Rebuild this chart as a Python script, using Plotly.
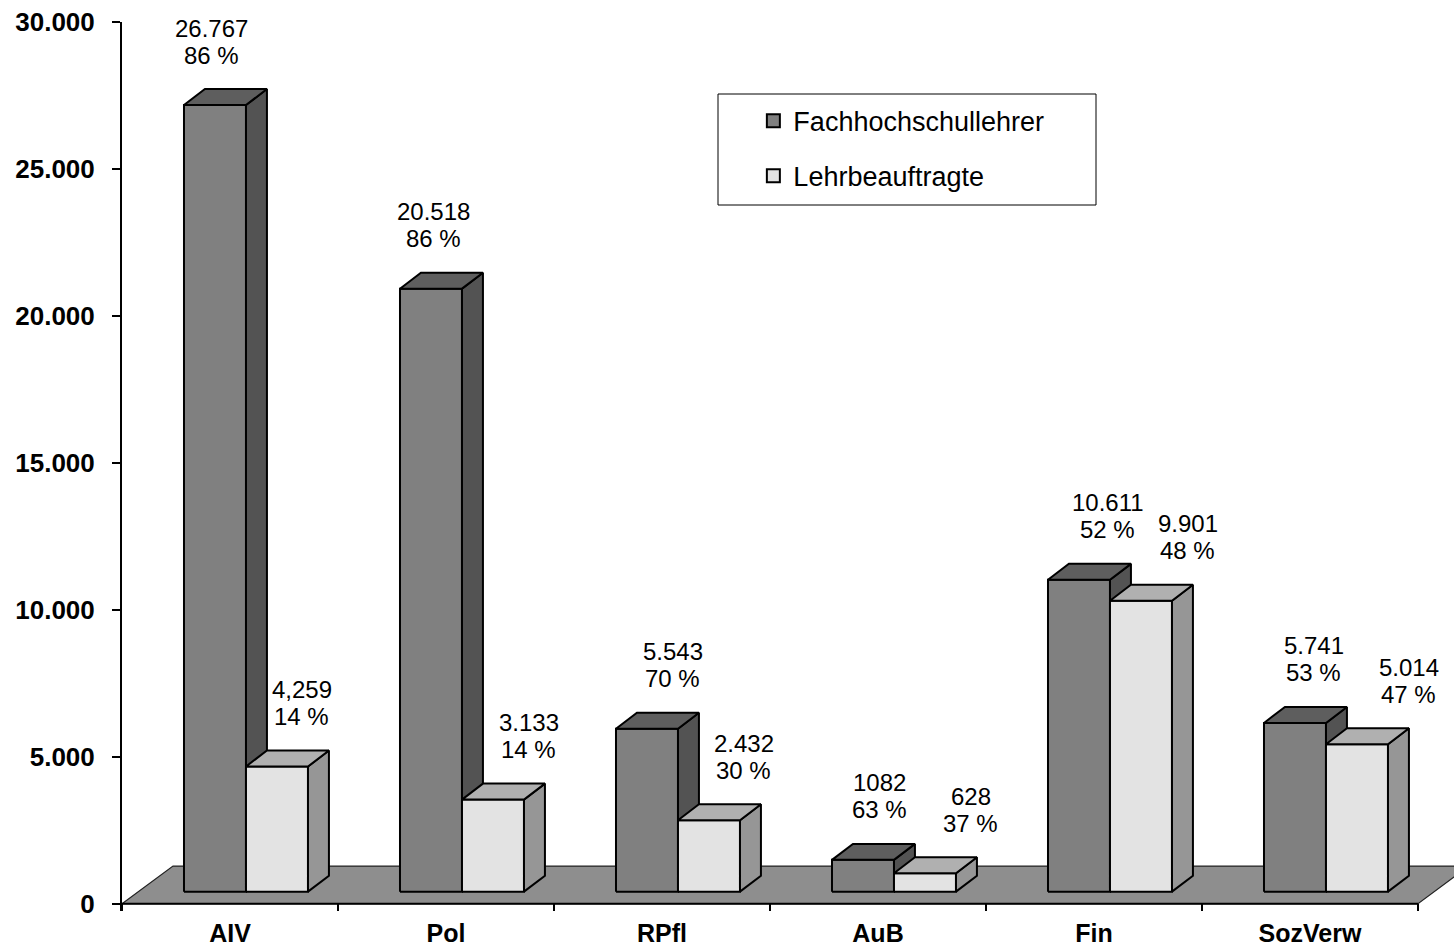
import plotly.graph_objects as go

# ---------------- data ----------------
categories = ["AIV", "Pol", "RPfl", "AuB", "Fin", "SozVerw"]
series_names = ["Fachhochschullehrer", "Lehrbeauftragte"]
fhl_values = [26767, 20518, 5543, 1082, 10611, 5741]
lba_values = [4259, 3133, 2432, 628, 9901, 5014]
fhl_value_text = ["26.767", "20.518", "5.543", "1082", "10.611", "5.741"]
lba_value_text = ["4,259", "3.133", "2.432", "628", "9.901", "5.014"]
fhl_pct = [86, 86, 70, 63, 52, 53]
lba_pct = [14, 14, 30, 37, 48, 47]
y_tick_values = [0, 5000, 10000, 15000, 20000, 25000, 30000]

# ---------------- geometry / style (layout constants) ----------------
BAR_LEFT = -0.213      # dark bar front-left, relative to category centre
BAR_W = 0.287          # bar width in category units
DEPTH_X = 0.097        # oblique depth of each bar (x units)
DEPTH_Y = 544          # oblique depth of each bar (y units)
BASE_Y = 408           # bars stand in the middle of the floor
FLOOR_DX = 0.236
FLOOR_DY = 1280
Y_MIN = -250
Y_MAX = 30000
X_MIN = -0.5
X_MAX = -0.5 + (1454 - 122) / 216.0

label_shift_fhl = [-3, 3, 26, 17, 29, 19]
label_shift_lba = [25, 36, 35, 46, 47, 52]

DARK_FRONT, DARK_SIDE, DARK_TOP = "#808080", "#535353", "#5e5e5e"
LIGHT_FRONT, LIGHT_SIDE, LIGHT_TOP = "#e3e3e3", "#969696", "#b0b0b0"
FLOOR = "#8e8e8e"
FONT = "Arial, Liberation Sans, sans-serif"


def faces(x0, x1, v):
    y0, y1 = BASE_Y, BASE_Y + v
    front = ([x0, x1, x1, x0, x0], [y0, y0, y1, y1, y0])
    side = ([x1, x1 + DEPTH_X, x1 + DEPTH_X, x1, x1],
            [y0, y0 + DEPTH_Y, y1 + DEPTH_Y, y1, y0])
    top = ([x0, x1, x1 + DEPTH_X, x0 + DEPTH_X, x0],
           [y1, y1, y1 + DEPTH_Y, y1 + DEPTH_Y, y1])
    return front, side, top


def collect(series, offset):
    out = {"front": ([], []), "side": ([], []), "top": ([], [])}
    for i, v in enumerate(series):
        x0 = i + BAR_LEFT + offset
        f, s, t = faces(x0, x0 + BAR_W, v)
        for key, poly in zip(["front", "side", "top"], [f, s, t]):
            out[key][0].extend(poly[0] + [None])
            out[key][1].extend(poly[1] + [None])
    return out


fig = go.Figure()

# floor
n = len(categories)
fig.add_trace(go.Scatter(
    x=[X_MIN, n - 0.5, n - 0.5 + FLOOR_DX, X_MIN + FLOOR_DX, X_MIN],
    y=[0, 0, FLOOR_DY, FLOOR_DY, 0],
    fill="toself", fillcolor=FLOOR, mode="lines",
    line=dict(color="#222222", width=1.2),
    hoverinfo="skip", showlegend=False))

dark = collect(fhl_values, 0.0)
light = collect(lba_values, BAR_W)
for polys, cols in [(dark, (DARK_FRONT, DARK_SIDE, DARK_TOP)),
                    (light, (LIGHT_FRONT, LIGHT_SIDE, LIGHT_TOP))]:
    for key, col in zip(["front", "side", "top"], cols):
        fig.add_trace(go.Scatter(
            x=polys[key][0], y=polys[key][1], fill="toself", fillcolor=col,
            mode="lines", line=dict(color="black", width=2),
            hoverinfo="skip", showlegend=False))

# x axis line and tick marks
ax_x, ax_y = [X_MIN, n - 0.5], [0, 0]
for k in range(n + 1):
    ax_x += [None, X_MIN + k, X_MIN + k]
    ax_y += [None, 0, Y_MIN]
fig.add_trace(go.Scatter(x=ax_x, y=ax_y, mode="lines",
                         line=dict(color="black", width=2),
                         hoverinfo="skip", showlegend=False))

# legend entries
for name, col, grp in [(series_names[0], DARK_FRONT, "a"),
                       (series_names[1], LIGHT_FRONT, "b")]:
    fig.add_trace(go.Scatter(
        x=[None], y=[None], mode="markers", name=name, legendgroup=grp,
        marker=dict(symbol="square", size=13, color=col,
                    line=dict(color="black", width=2))))

# data labels
annotations = []
for i in range(n):
    for vals, vtext, pct, shifts, offset in [
            (fhl_values, fhl_value_text, fhl_pct, label_shift_fhl, 0.0),
            (lba_values, lba_value_text, lba_pct, label_shift_lba, BAR_W)]:
        cx = i + BAR_LEFT + offset + BAR_W / 2
        top = BASE_Y + vals[i] + DEPTH_Y
        for txt, ys in [(vtext[i], 61), (f"{pct[i]} %", 34)]:
            annotations.append(dict(
                x=cx, y=top, xref="x", yref="y", text=txt, showarrow=False,
                xshift=shifts[i], yshift=ys, xanchor="center", yanchor="middle",
                font=dict(family=FONT, size=24, color="black")))

fig.update_layout(
    width=1454, height=948,
    margin=dict(l=122, r=0, t=22, b=37),
    paper_bgcolor="white", plot_bgcolor="white",
    separators=",.",
    font=dict(family=FONT, color="black"),
    showlegend=True,
    legend=dict(x=0.474, y=0.916, xanchor="left", yanchor="top",
                bgcolor="rgba(0,0,0,0)", borderwidth=0,
                tracegroupgap=17,
                font=dict(family=FONT, size=27, color="black")),
    shapes=[dict(type="rect", xref="paper", yref="paper",
                 x0=(718 - 122) / 1332, x1=(1096 - 122) / 1332,
                 y0=1 - (205 - 22) / 889, y1=1 - (94 - 22) / 889,
                 line=dict(color="black", width=1), fillcolor="rgba(0,0,0,0)",
                 layer="below")],
    annotations=annotations,
    xaxis=dict(range=[X_MIN, X_MAX], showgrid=False, zeroline=False,
               showline=False, tickmode="array", automargin=False,
               tickvals=list(range(n)), ticktext=categories, ticks="",
               ticklabelstandoff=5,
               tickfont=dict(family=FONT, size=25, color="black", weight="bold")),
    yaxis=dict(range=[Y_MIN, Y_MAX], showgrid=False, zeroline=False,
               showline=True, linecolor="black", linewidth=2, automargin=False,
               tickmode="array", tickvals=y_tick_values, tickformat=",d",
               ticks="outside", ticklen=8, tickwidth=2, tickcolor="black",
               ticklabelstandoff=12,
               tickfont=dict(family=FONT, size=26, color="black", weight="bold")),
)

fig.write_html("out.html",
               config={"displayModeBar": False},
               post_script="document.body.style.margin='0px';"
                           "document.body.style.overflow='hidden';")
